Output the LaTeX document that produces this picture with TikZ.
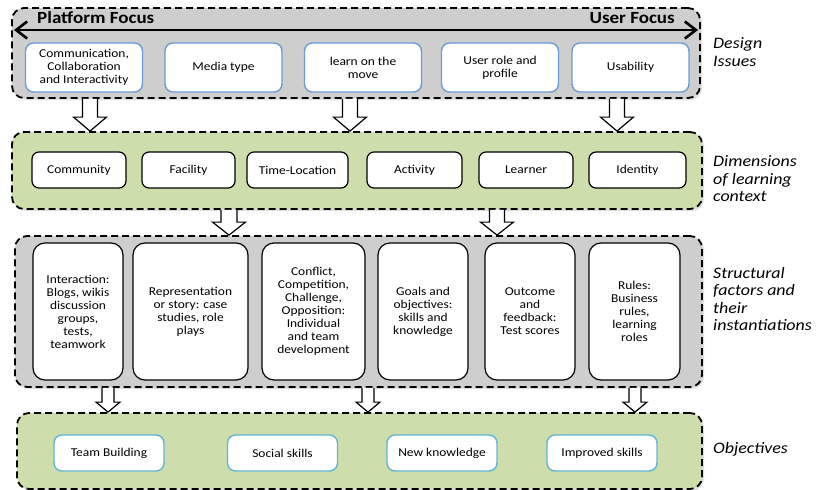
\documentclass[tikz,border=0pt]{standalone}
\usepackage{fontspec}
\setmainfont{Carlito}[FakeStretch=1.12]
\usetikzlibrary{arrows.meta,shadows,calc}
\definecolor{panelgray}{RGB}{206,206,206}
\definecolor{panelgreen}{RGB}{205,221,172}
\definecolor{boxblue}{RGB}{105,155,212}
\definecolor{boxteal}{RGB}{95,182,212}
\tikzset{
  panel/.style={draw,line width=1.8pt,dash pattern=on 7pt off 4pt,rounded corners=12pt,
    drop shadow={opacity=0.25,shadow xshift=2pt,shadow yshift=-2pt}},
  item/.style={draw,fill=white,align=center,inner sep=0pt,font=\fontsize{12}{13}\selectfont},
  dbox/.style={item,draw=boxblue,line width=1.4pt,rounded corners=8pt,minimum width=117pt,minimum height=49pt},
  cbox/.style={item,line width=1.2pt,rounded corners=7pt,minimum height=36pt},
  sbox/.style={item,line width=1.2pt,rounded corners=12pt,minimum height=137pt},
  obox/.style={item,draw=boxteal,line width=1.4pt,rounded corners=8pt,minimum width=110pt,minimum height=36pt},
  side/.style={anchor=west,align=left,inner sep=0pt,font=\fontsize{16}{17.5}\selectfont\itshape},
  focus/.style={inner sep=0pt,font=\fontsize{17}{18}\selectfont\bfseries},
  hollow/.style n args={3}{fill=white,line width=1.2pt,
    to path={let \p1=(\tikztostart),\p2=(\tikztotarget) in
      (\x1-#1,\y1) -- (\x1-#1,\y2+#3) -- (\x1-#2,\y2+#3) -- (\x1,\y2)
      -- (\x1+#2,\y2+#3) -- (\x1+#1,\y2+#3) -- (\x1+#1,\y1)}}
}
\begin{document}
\begin{tikzpicture}[x=1pt,y=-1pt]
\useasboundingbox (0,0) rectangle (817,490);

\node[panel,fill=panelgray,minimum width=688pt,minimum height=90pt] (design) at (356,53) {};
\node[panel,fill=panelgreen,minimum width=690pt,minimum height=77pt] (dims) at (357,170.5) {};
\node[panel,fill=panelgray,minimum width=687pt,minimum height=151pt] (struct) at (358.5,311.5) {};
\node[panel,fill=panelgreen,minimum width=685pt,minimum height=76pt] (obj) at (359.5,451) {};

\coordinate (pf) at (14,30);
\coordinate (uf) at (698,30);
\draw[line width=2.6pt,{Straight Barb[length=11pt,width=17pt]}-{Straight Barb[length=11pt,width=17pt]}] (pf) -- (uf);
\node[focus,anchor=base west] (platform) at (37,23.5) {Platform Focus};
\node[focus,anchor=base east] (user) at (675,23.5) {User Focus};

\node[dbox] (comm) at (84,67.5) {Communication,\\Collaboration\\and Interactivity};
\node[dbox] (media) at (223.5,67.5) {Media type};
\node[dbox] (move) at (363,67.5) {learn on the\\move};
\node[dbox] (role) at (500,67.5) {User role and\\profile};
\node[dbox] (usab) at (630.5,67.5) {Usability};

\node[cbox,minimum width=94pt] (community) at (79,170) {Community};
\node[cbox,minimum width=93pt] (facility) at (188.5,170) {Facility};
\node[cbox,minimum width=101pt] (timeloc) at (297.5,170) {Time-Location};
\node[cbox,minimum width=95pt] (activity) at (414.5,170) {Activity};
\node[cbox,minimum width=94pt] (learner) at (526,170) {Learner};
\node[cbox,minimum width=97pt] (identity) at (637.5,170) {Identity};

\node[sbox,minimum width=90pt] (interact) at (78,311.5) {Interaction:\\Blogs, wikis\\discussion\\groups,\\tests,\\teamwork};
\node[sbox,minimum width=115pt] (story) at (190.5,311.5) {Representation\\or story: case\\studies, role\\plays};
\node[sbox,minimum width=103pt] (conflict) at (313.5,311.5) {Conflict,\\Competition,\\Challenge,\\Opposition:\\Individual\\and team\\development};
\node[sbox,minimum width=90pt] (goals) at (423,311.5) {Goals and\\objectives:\\skills and\\knowledge};
\node[sbox,minimum width=90pt] (outcome) at (530,311.5) {Outcome\\and\\feedback:\\Test scores};
\node[sbox,minimum width=91pt] (rules) at (634.5,311.5) {Rules:\\Business\\rules,\\learning\\roles};

\node[obox] (team) at (109,453) {Team Building};
\node[obox] (social) at (282.5,453) {Social skills};
\node[obox] (know) at (442,453) {New knowledge};
\node[obox] (skills) at (602,453) {Improved skills};

\draw[hollow={7.5pt}{16.5pt}{14pt}] (90,0 |- design.south) to (90,0 |- dims.north);
\draw[hollow={7.5pt}{16.5pt}{14pt}] (350,0 |- design.south) to (350,0 |- dims.north);
\draw[hollow={7.5pt}{16.5pt}{14pt}] (617,0 |- design.south) to (617,0 |- dims.north);
\draw[hollow={8pt}{16.5pt}{13pt}] (229,0 |- dims.south) to (229,0 |- struct.north);
\draw[hollow={7.5pt}{16.5pt}{13pt}] (497,0 |- dims.south) to (497,0 |- struct.north);
\draw[hollow={6pt}{12pt}{10pt}] (108,0 |- struct.south) to (108,0 |- obj.north);
\draw[hollow={6pt}{12pt}{10pt}] (368,0 |- struct.south) to (368,0 |- obj.north);
\draw[hollow={6pt}{12pt}{10pt}] (635,0 |- struct.south) to (635,0 |- obj.north);

\node[side] (lbldesign) at (713,52) {Design\\Issues};
\node[side] (lbldims) at (713,179) {Dimensions\\of learning\\context};
\node[side] (lblstruct) at (713,299) {Structural\\factors and\\their\\instantiations};
\node[side] (lblobj) at (713,449) {Objectives};
\end{tikzpicture}
\end{document}
